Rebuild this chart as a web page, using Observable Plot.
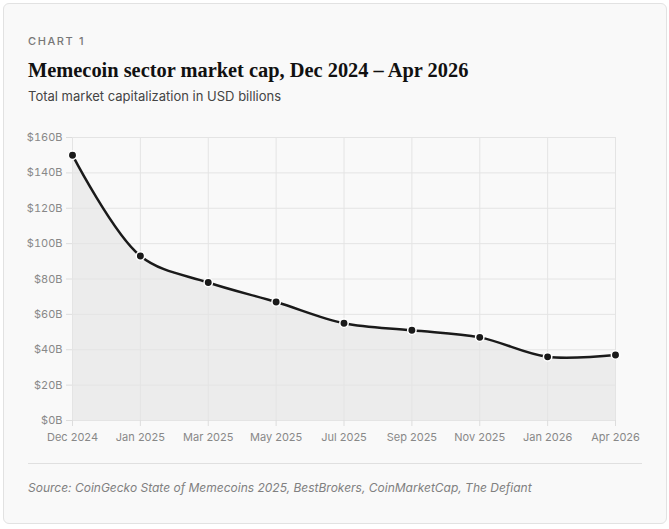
<!DOCTYPE html>
<html>
<head>
<meta charset="utf-8">
<script src="https://cdn.jsdelivr.net/npm/d3@7"></script>
<script src="https://cdn.jsdelivr.net/npm/@observablehq/plot@0.6"></script>
<style>
  html, body { margin: 0; padding: 0; background: #ffffff; }
  .card {
    position: absolute; left: 3px; top: 3px;
    width: 614px; height: 471px;
    padding: 24px;
    background: #f9f9f9;
    border: 1px solid #e2e2e2;
    border-radius: 6px;
    font-family: Inter, "Noto Sans", sans-serif;
  }
  .kicker { margin-top: 6px; font-size: 11px; letter-spacing: 1.6px; color: #777; font-weight: 500; line-height: 14px; }
  .title { margin-top: 11px; font-family: "Liberation Serif", "DejaVu Serif", serif; font-weight: 700; font-size: 20.4px; color: #111; line-height: 22px; }
  .subtitle { margin-top: 6px; font-size: 13px; color: #444; line-height: 18px; }
  .chart { margin-top: 22px; }
  .chart svg { display: block; overflow: visible; }
  .sep { border-top: 1px solid #e0e0e0; margin-top: 13px; }
  .source { margin-top: 16px; font-size: 12px; font-style: italic; color: #808080; line-height: 16px; }
</style>
</head>
<body>
<div class="card">
  <div class="kicker">CHART 1</div>
  <div class="title">Memecoin sector market cap, Dec 2024 – Apr 2026</div>
  <div class="subtitle">Total market capitalization in USD billions</div>
  <div class="chart" id="chart"></div>
  <div class="sep"></div>
  <div class="source">Source: CoinGecko State of Memecoins 2025, BestBrokers, CoinMarketCap, The Defiant</div>
</div>
<script>
const months = ["Dec 2024", "Jan 2025", "Mar 2025", "May 2025", "Jul 2025", "Sep 2025", "Nov 2025", "Jan 2026", "Apr 2026"];
const marketCap = [150, 93, 78, 67, 55, 51, 47, 36, 37];
const yTicks = [0, 20, 40, 60, 80, 100, 120, 140, 160];

const data = months.map((m, i) => ({month: m, value: marketCap[i]}));

const chart = Plot.plot({
  width: 614,
  height: 323,
  marginLeft: 44,
  marginRight: 27,
  marginTop: 10,
  marginBottom: 30,
  style: {fontFamily: "Inter, 'Noto Sans', sans-serif", fontSize: "11px", color: "#888", background: "transparent"},
  x: {type: "point", domain: months, padding: 0, round: false, label: null},
  y: {domain: [0, 160], label: null},
  marks: [
    Plot.areaY(data, {x: "month", y: "value", fill: "#ececec", curve: "catmull-rom"}),
    Plot.gridX(months, {stroke: "#e4e4e4", strokeOpacity: 1}),
    Plot.gridY(yTicks, {stroke: "#e4e4e4", strokeOpacity: 1}),
    Plot.axisX(months, {tickSize: 6, tickPadding: 7, stroke: "#dddddd", fill: "#888", label: null}),
    Plot.axisY(yTicks, {tickSize: 6, tickPadding: 4, stroke: "#dddddd", fill: "#888", tickFormat: d => `$${d}B`, label: null}),
    Plot.lineY(data, {x: "month", y: "value", stroke: "#1a1a1a", strokeWidth: 2.5, curve: "catmull-rom"}),
    Plot.dot(data, {x: "month", y: "value", r: 4.2, fill: "#1a1a1a", stroke: "#ffffff", strokeWidth: 1.5})
  ]
});
document.getElementById("chart").appendChild(chart);
</script>
</body>
</html>
